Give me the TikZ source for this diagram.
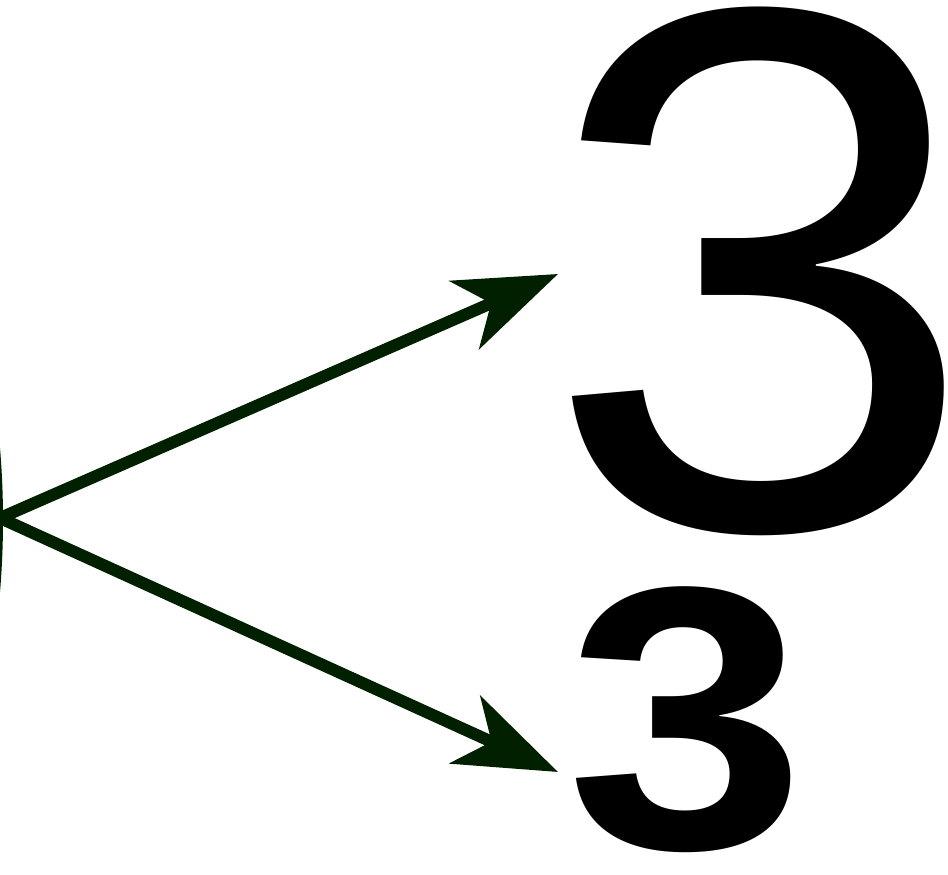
\documentclass[tikz,border=0pt]{standalone}
\usepackage{fontspec}
\setmainfont{Liberation Sans}
\usetikzlibrary{arrows.meta}
\definecolor{arrowgreen}{RGB}{0,32,0}
\tikzset{
  digit/.style={inner sep=0pt, anchor=base west, text=black},
  conn/.style={draw=arrowgreen, line width=12pt,
    -{Stealth[length=102pt, width=74pt, inset=29pt]}}
}
\begin{document}
\begin{tikzpicture}[x=1pt, y=-1pt]
\useasboundingbox (0,0) rectangle (948,875);
\fill[arrowgreen] (0,448) .. controls (4,495) and (4,545) .. (0,592) -- cycle;
\coordinate (src) at (0,518);
\node[digit] (big) at (542,528) {\fontsize{747}{747}\selectfont\scalebox{1.05}[1]{3}};
\node[digit] (small) at (566,848) {\fontsize{375}{375}\selectfont\bfseries\scalebox{1.15}[1]{3}};
\coordinate (t1) at (558,274);
\coordinate (t2) at (558,772);
\draw[conn] (src) -- (t1);
\draw[conn] (src) -- (t2);
\end{tikzpicture}
\end{document}
